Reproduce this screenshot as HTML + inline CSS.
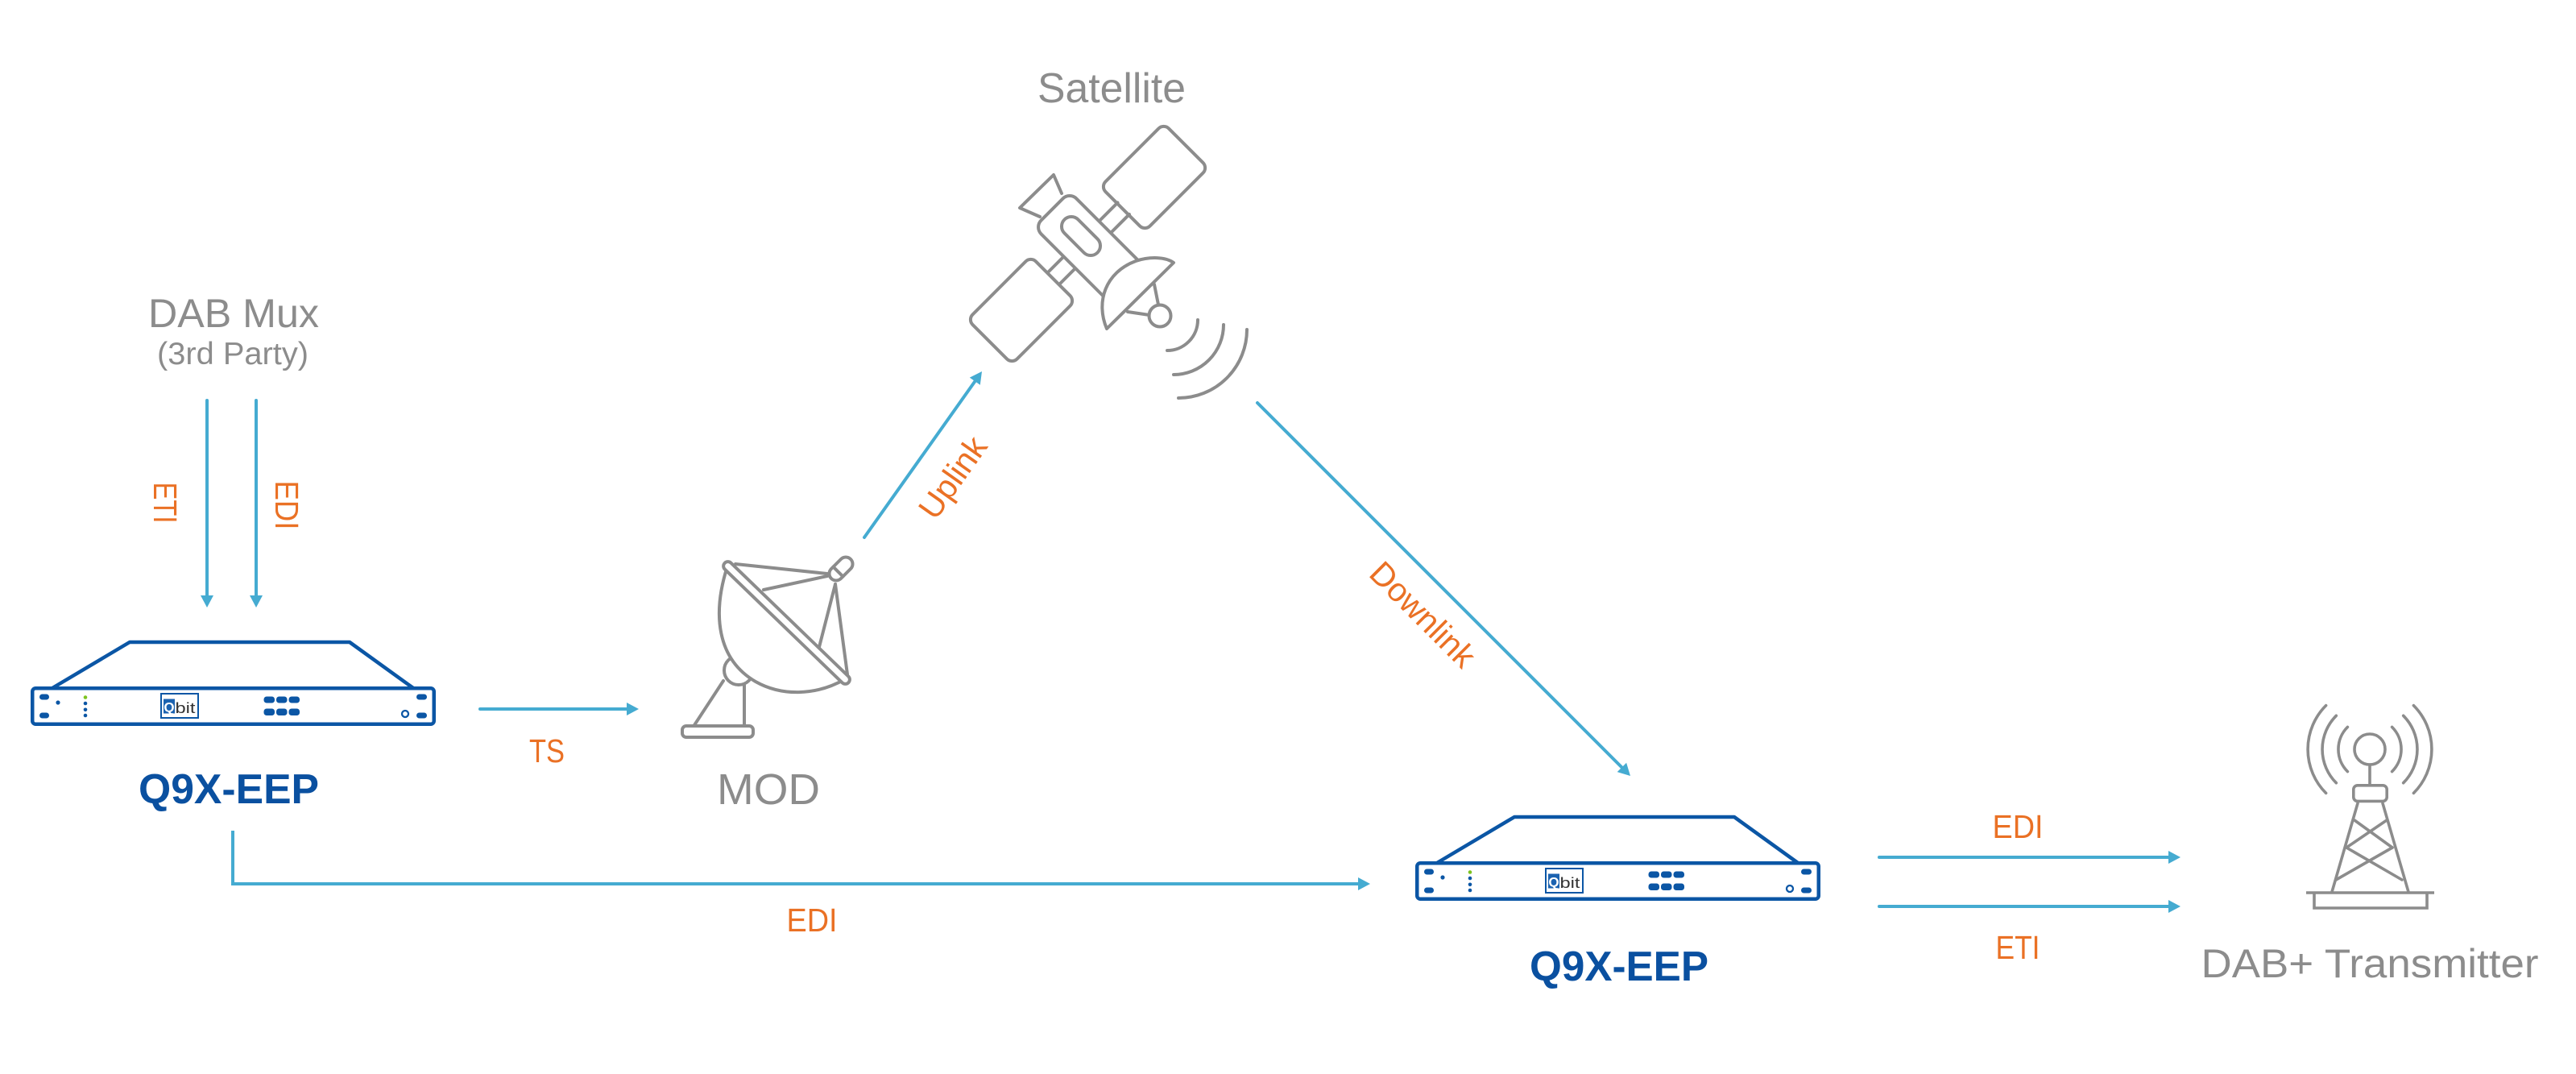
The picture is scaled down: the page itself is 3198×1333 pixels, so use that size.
<!DOCTYPE html>
<html><head><meta charset="utf-8"><style>
html,body{margin:0;padding:0;background:#fff;}
svg{display:block;}
text{font-family:"Liberation Sans",Arial,sans-serif;}
</style></head><body>
<svg width="3198" height="1333" viewBox="0 0 3198 1333" xmlns="http://www.w3.org/2000/svg">
<rect width="3198" height="1333" fill="#fff"/>

<!-- ===== Labels (gray) ===== -->
<g fill="#8c8c8c" text-anchor="middle">
  <text x="1380" y="127" font-size="52" textLength="184" lengthAdjust="spacingAndGlyphs">Satellite</text>
  <text x="290" y="406" font-size="50" textLength="212" lengthAdjust="spacingAndGlyphs">DAB Mux</text>
  <text x="289" y="452" font-size="39" textLength="188" lengthAdjust="spacingAndGlyphs">(3rd Party)</text>
  <text x="954" y="998" font-size="54" textLength="128" lengthAdjust="spacingAndGlyphs">MOD</text>
  <text x="2942" y="1213" font-size="50" textLength="419" lengthAdjust="spacingAndGlyphs">DAB+ Transmitter</text>
</g>

<!-- ===== Labels (blue) ===== -->
<g fill="#0a50a0" text-anchor="middle" font-weight="bold">
  <text x="284" y="997" font-size="52" textLength="224" lengthAdjust="spacingAndGlyphs">Q9X-EEP</text>
  <text x="2010" y="1217" font-size="52" textLength="222" lengthAdjust="spacingAndGlyphs">Q9X-EEP</text>
</g>

<!-- ===== Labels (orange) ===== -->
<g fill="#ea7125" text-anchor="middle" font-size="41">
  <text x="679" y="946" textLength="44" lengthAdjust="spacingAndGlyphs">TS</text>
  <text x="1008" y="1156" textLength="63" lengthAdjust="spacingAndGlyphs">EDI</text>
  <text x="2505" y="1040" textLength="63" lengthAdjust="spacingAndGlyphs">EDI</text>
  <text x="2505" y="1190" textLength="55" lengthAdjust="spacingAndGlyphs">ETI</text>
  <text transform="translate(191,624) rotate(90)" textLength="51" lengthAdjust="spacingAndGlyphs">ETI</text>
  <text transform="translate(342,627) rotate(90)" textLength="61" lengthAdjust="spacingAndGlyphs">EDI</text>
  <text transform="translate(1182,592) rotate(-54.7)" y="15" textLength="114" lengthAdjust="spacingAndGlyphs">Uplink</text>
  <text transform="translate(1767,762) rotate(45)" y="15" textLength="166" lengthAdjust="spacingAndGlyphs">Downlink</text>
</g>

<!-- ===== Arrows ===== -->
<g stroke="#45abd1" stroke-width="4" fill="none" stroke-linecap="round">
  <line x1="257" y1="497" x2="257" y2="742"/>
  <line x1="318" y1="497" x2="318" y2="742"/>
  <line x1="596" y1="880" x2="781" y2="880"/>
  <line x1="1073" y1="667" x2="1212" y2="471"/>
  <line x1="1561" y1="500" x2="2015" y2="954"/>
  <polyline points="289,1031 289,1097 1689,1097" stroke-linejoin="miter" stroke-linecap="butt"/>
  <line x1="2333" y1="1064" x2="2695" y2="1064"/>
  <line x1="2333" y1="1125" x2="2695" y2="1125"/>
</g>
<g fill="#45abd1">
  <polygon points="257,754 249,739 265,739"/>
  <polygon points="318,754 310,739 326,739"/>
  <polygon points="793,880 778,872 778,888"/>
  <polygon points="1219,461 1216.8,477.8 1203.8,468.6"/>
  <polygon points="2024,963 2007.7,958.1 2019.1,946.7"/>
  <polygon points="1701,1097 1686,1089 1686,1105"/>
  <polygon points="2707,1064 2692,1056 2692,1072"/>
  <polygon points="2707,1125 2692,1117 2692,1133"/>
</g>

<!-- ===== Device 1 ===== -->
<g transform="translate(38,852)">
  <polyline points="27,2 123,-55 396,-55 475,2" fill="none" stroke="#0b56a5" stroke-width="4.5" stroke-linejoin="round"/>
  <rect x="2.25" y="2.25" width="498.5" height="44.5" rx="4" fill="#fff" stroke="#0b56a5" stroke-width="4.5"/>
  <g fill="#0b56a5">
    <rect x="11" y="9.5" width="12" height="7" rx="3.5"/>
    <rect x="11" y="32.5" width="12" height="7" rx="3.5"/>
    <circle cx="34" cy="20" r="2.6"/>
    <circle cx="68" cy="21" r="2.3"/>
    <circle cx="68" cy="28.8" r="2.3"/>
    <circle cx="68" cy="36" r="2.3"/>
    <rect x="289.5" y="12.5" width="13.5" height="8" rx="3.5"/>
    <rect x="305" y="12.5" width="13.5" height="8" rx="3.5"/>
    <rect x="320.5" y="12.5" width="13.5" height="8" rx="3.5"/>
    <rect x="289.5" y="27.5" width="13.5" height="8.5" rx="3.5"/>
    <rect x="305" y="27.5" width="13.5" height="8.5" rx="3.5"/>
    <rect x="320.5" y="27.5" width="13.5" height="8.5" rx="3.5"/>
    <rect x="479" y="9.5" width="13" height="7" rx="3.5"/>
    <rect x="479" y="32.5" width="13" height="7" rx="3.5"/>
  </g>
  <circle cx="68" cy="13.5" r="2.3" fill="#7dc31f"/>
  <circle cx="465" cy="34" r="4" fill="none" stroke="#0b56a5" stroke-width="2.3"/>
  <rect x="162" y="9" width="46" height="30" fill="#fff" stroke="#0b56a5" stroke-width="2"/>
  <rect x="165" y="15.5" width="14" height="18" fill="#1b62b0"/>
  <text x="172" y="31.5" font-size="17" font-weight="bold" fill="#fff" text-anchor="middle">Q</text>
  <text x="192" y="33" font-size="18" fill="#333" text-anchor="middle" textLength="25" lengthAdjust="spacingAndGlyphs">bit</text>
</g>

<!-- ===== Device 2 ===== -->
<g transform="translate(1757,1069)">
  <polyline points="27,2 123,-55 396,-55 475,2" fill="none" stroke="#0b56a5" stroke-width="4.5" stroke-linejoin="round"/>
  <rect x="2.25" y="2.25" width="498.5" height="44.5" rx="4" fill="#fff" stroke="#0b56a5" stroke-width="4.5"/>
  <g fill="#0b56a5">
    <rect x="11" y="9.5" width="12" height="7" rx="3.5"/>
    <rect x="11" y="32.5" width="12" height="7" rx="3.5"/>
    <circle cx="34" cy="20" r="2.6"/>
    <circle cx="68" cy="21" r="2.3"/>
    <circle cx="68" cy="28.8" r="2.3"/>
    <circle cx="68" cy="36" r="2.3"/>
    <rect x="289.5" y="12.5" width="13.5" height="8" rx="3.5"/>
    <rect x="305" y="12.5" width="13.5" height="8" rx="3.5"/>
    <rect x="320.5" y="12.5" width="13.5" height="8" rx="3.5"/>
    <rect x="289.5" y="27.5" width="13.5" height="8.5" rx="3.5"/>
    <rect x="305" y="27.5" width="13.5" height="8.5" rx="3.5"/>
    <rect x="320.5" y="27.5" width="13.5" height="8.5" rx="3.5"/>
    <rect x="479" y="9.5" width="13" height="7" rx="3.5"/>
    <rect x="479" y="32.5" width="13" height="7" rx="3.5"/>
  </g>
  <circle cx="68" cy="13.5" r="2.3" fill="#7dc31f"/>
  <circle cx="465" cy="34" r="4" fill="none" stroke="#0b56a5" stroke-width="2.3"/>
  <rect x="162" y="9" width="46" height="30" fill="#fff" stroke="#0b56a5" stroke-width="2"/>
  <rect x="165" y="15.5" width="14" height="18" fill="#1b62b0"/>
  <text x="172" y="31.5" font-size="17" font-weight="bold" fill="#fff" text-anchor="middle">Q</text>
  <text x="192" y="33" font-size="18" fill="#333" text-anchor="middle" textLength="25" lengthAdjust="spacingAndGlyphs">bit</text>
</g>

<!-- ===== MOD dish ===== -->
<g fill="none" stroke="#8c8c8c" stroke-width="4" stroke-linecap="round" stroke-linejoin="round">
  <line x1="898" y1="845" x2="862" y2="900"/>
  <line x1="924" y1="848" x2="924" y2="901"/>
  <rect x="847" y="901" width="88" height="14" rx="5" fill="#fff"/>
  <circle cx="917" cy="832" r="18" fill="#fff"/>
  <path d="M903,703 C884,762 890,818 938,846 C970,864 1012,864 1049,843 Z" fill="#fff"/>
  <line x1="913" y1="700" x2="1027" y2="712"/>
  <line x1="948" y1="732" x2="1027" y2="715"/>
  <line x1="1037" y1="725" x2="1017" y2="803"/>
  <line x1="1037" y1="725" x2="1052" y2="837"/>
  <rect x="-6" y="-5.5" width="213.6" height="11" rx="5.5" transform="translate(904,703) rotate(44)" fill="#fff"/>
  <g transform="translate(1044,706) rotate(-45)">
    <rect x="-17" y="-8.5" width="34" height="17" rx="8.5" fill="#fff"/>
    <line x1="-5" y1="-8.5" x2="-5" y2="8.5"/>
  </g>
</g>

<!-- ===== Satellite ===== -->
<g fill="none" stroke="#8c8c8c" stroke-width="4" stroke-linecap="round" stroke-linejoin="round">
  <rect x="-39" y="-55.5" width="78" height="111" rx="9" transform="translate(1433,220) rotate(45)" fill="#fff"/>
  <rect x="-39" y="-55.5" width="78" height="111" rx="9" transform="translate(1268,385) rotate(45)" fill="#fff"/>
  <line x1="1366" y1="273" x2="1387.5" y2="251.5"/>
  <line x1="1380.5" y1="287.5" x2="1402" y2="266"/>
  <line x1="1319.5" y1="319.5" x2="1300.5" y2="338.5"/>
  <line x1="1334" y1="334" x2="1315" y2="353"/>
  <polyline points="1318,240 1308,217 1266,258 1291,269"/>
  <rect x="0" y="-31" width="135" height="62" rx="12" transform="translate(1306,260) rotate(45)" fill="#fff"/>
  <rect x="-29" y="-12" width="58" height="24" rx="12" transform="translate(1342,293) rotate(45)"/>
  <path d="M1374,408 C1360,375 1372,338 1410,324 C1428,318 1447,319 1457,326 Z" fill="#fff"/>
  <line x1="1433" y1="353" x2="1438" y2="378"/>
  <line x1="1400" y1="387" x2="1427" y2="391"/>
  <circle cx="1440" cy="392" r="13.5" fill="#fff"/>
  <path d="M1487,397 A38,38 0 0 1 1449,435"/>
  <path d="M1519,403 A62,62 0 0 1 1457,465"/>
  <path d="M1548,409 A85,85 0 0 1 1463,494"/>
</g>

<!-- ===== Transmitter tower ===== -->
<g fill="none" stroke="#8c8c8c" stroke-width="3.6" stroke-linecap="round" stroke-linejoin="round">
  <circle cx="2942" cy="930" r="19"/>
  <line x1="2942" y1="949" x2="2942" y2="973"/>
  <rect x="2921.8" y="974.8" width="41.4" height="19.6" rx="5"/>
  <line x1="2927" y1="997" x2="2895" y2="1107"/>
  <line x1="2958" y1="997" x2="2990" y2="1107"/>
  <line x1="2923" y1="1018" x2="2970" y2="1052"/>
  <line x1="2963" y1="1018" x2="2913" y2="1052"/>
  <line x1="2913" y1="1052" x2="2982" y2="1092"/>
  <line x1="2970" y1="1052" x2="2900" y2="1092"/>
  <line x1="2863" y1="1108" x2="3022" y2="1108" stroke-linecap="butt"/>
  <polyline points="2873,1108 2873,1127 3013,1127 3013,1108" stroke-linejoin="miter" stroke-linecap="butt"/>
  <path d="M2914.4,902.4 A39,39 0 0 0 2914.4,957.6"/>
  <path d="M2900.3,888.3 A59,59 0 0 0 2900.3,971.7"/>
  <path d="M2887.6,875.6 A77,77 0 0 0 2887.6,984.4"/>
  <path d="M2969.6,902.4 A39,39 0 0 1 2969.6,957.6"/>
  <path d="M2983.7,888.3 A59,59 0 0 1 2983.7,971.7"/>
  <path d="M2996.4,875.6 A77,77 0 0 1 2996.4,984.4"/>
</g>

</svg>
</body></html>
